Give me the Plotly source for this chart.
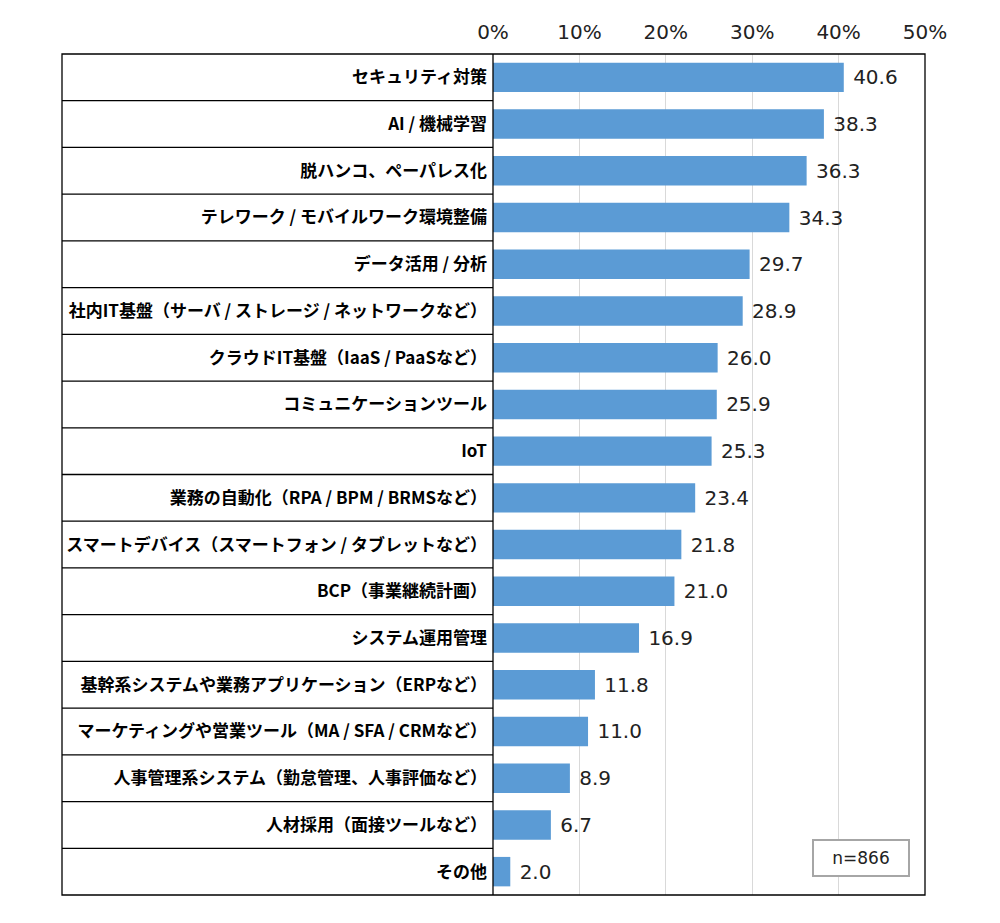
import plotly.graph_objects as go

# categories top -> bottom
categories = [
    "セキュリティ対策",
    "AI / 機械学習",
    "脱ハンコ、ペーパレス化",
    "テレワーク / モバイルワーク環境整備",
    "データ活用 / 分析",
    "社内IT基盤（サーバ / ストレージ / ネットワークなど）",
    "クラウドIT基盤（IaaS / PaaSなど）",
    "コミュニケーションツール",
    "IoT",
    "業務の自動化（RPA / BPM / BRMSなど）",
    "スマートデバイス（スマートフォン / タブレットなど）",
    "BCP（事業継続計画）",
    "システム運用管理",
    "基幹系システムや業務アプリケーション（ERPなど）",
    "マーケティングや営業ツール（MA / SFA / CRMなど）",
    "人事管理系システム（勤怠管理、人事評価など）",
    "人材採用（面接ツールなど）",
    "その他",
]
values = [40.6, 38.3, 36.3, 34.3, 29.7, 28.9, 26.0, 25.9, 25.3,
          23.4, 21.8, 21.0, 16.9, 11.8, 11.0, 8.9, 6.7, 2.0]
x_ticks = [0, 10, 20, 30, 40, 50]
sample_note = "n=866"

JP_FONT = "Noto Sans CJK JP"
NUM_FONT = "DejaVu Sans"

fig = go.Figure(go.Bar(
    x=values,
    y=categories,
    orientation="h",
    marker=dict(color="#5B9BD5", line=dict(width=0)),
    text=[f" {v:.1f}" for v in values],
    textposition="outside",
    textfont=dict(family=NUM_FONT, size=20, color="#222222"),
    cliponaxis=False,
))

# left edge of the label column, in paper units (plot area starts at x=0)
left = -(493 - 62) / (925 - 493)

shapes = []
# row separators in the label column
for i in range(len(categories) - 1):
    shapes.append(dict(type="line", xref="paper", yref="y",
                       x0=left, x1=0, y0=i + 0.5, y1=i + 0.5,
                       line=dict(color="black", width=1.3)))
# outer frame
shapes.append(dict(type="rect", xref="paper", yref="paper",
                   x0=left, x1=1, y0=0, y1=1,
                   line=dict(color="black", width=1.3), layer="above"))
# divider between labels and bars
shapes.append(dict(type="line", xref="paper", yref="paper",
                   x0=0, x1=0, y0=0, y1=1,
                   line=dict(color="black", width=1.3), layer="above"))

fig.update_layout(
    width=984,
    height=907,
    margin=dict(l=485, r=67, t=46, b=20),
    plot_bgcolor="white",
    paper_bgcolor="white",
    bargap=0.37,
    showlegend=False,
    shapes=shapes,
    font=dict(family=JP_FONT, color="#222222"),
    xaxis=dict(
        side="top",
        range=[0, 50],
        tickvals=x_ticks,
        ticktext=[f"{t}%" for t in x_ticks],
        tickfont=dict(family=NUM_FONT, size=20, color="#222222"),
        showgrid=True,
        gridcolor="#D9D9D9",
        gridwidth=1,
        zeroline=False,
        showline=False,
        ticks="",
        ticklabelstandoff=10,
        fixedrange=True,
    ),
    yaxis=dict(
        autorange="reversed",
        tickfont=dict(family=JP_FONT, size=17, color="black", weight="bold"),
        ticks="",
        showgrid=False,
        showline=False,
        ticklabelstandoff=5,
        fixedrange=True,
    ),
    annotations=[dict(
        text=sample_note,
        xref="paper", yref="paper",
        x=0.852, y=0.044,
        xanchor="center", yanchor="middle",
        showarrow=False,
        font=dict(family=NUM_FONT, size=17, color="#222222"),
        bordercolor="#A6A6A6",
        borderwidth=2,
        borderpad=7,
        width=80,
        bgcolor="white",
    )],
)

fig.write_html("out.html")
